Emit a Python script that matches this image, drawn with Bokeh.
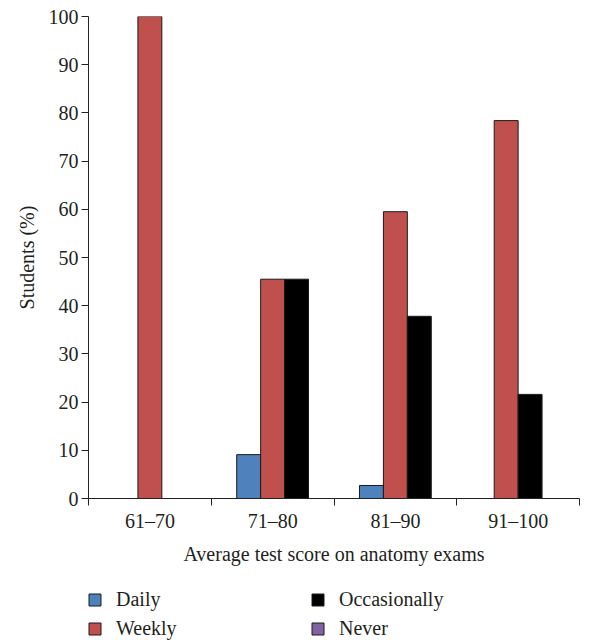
from bokeh.plotting import figure
from bokeh.layouts import column
from bokeh.models import (Range1d, FixedTicker, Legend, LegendItem, ColumnDataSource)
from bokeh.embed import file_html
from bokeh.resources import INLINE

categories = ["61–70", "71–80", "81–90", "91–100"]
series_names = ["Daily", "Weekly", "Occasionally", "Never"]
daily = [0, 9.1, 2.7, 0]
weekly = [100, 45.5, 59.5, 78.4]
occasionally = [0, 45.5, 37.8, 21.6]
never = [0, 0, 0, 0]
colors = ["#4F81BD", "#C0504D", "#000000", "#8064A2"]
y_ticks = [0, 10, 20, 30, 40, 50, 60, 70, 80, 90, 100]

FONT = "Liberation Serif"
TXT = "#231f20"
EDGE = "#1a1a1a"
BAR_W = 0.195

values = [daily, weekly, occasionally, never]

# per-series sources: the non-zero bars of each category centred in it
srcs = {name: dict(x=[], top=[]) for name in series_names}
for ci, cat in enumerate(categories):
    present = [si for si in range(len(series_names)) if values[si][ci] > 0]
    n = len(present)
    for k, si in enumerate(present):
        off = (k - (n - 1) / 2) * BAR_W
        srcs[series_names[si]]["x"].append(ci + 0.5 + off)
        srcs[series_names[si]]["top"].append(values[si][ci])

p = figure(width=615, height=570, output_backend="svg", toolbar_location=None,
           x_range=Range1d(0, len(categories)), y_range=Range1d(0, 100),
           min_border_left=88, min_border_right=36, min_border_top=16,
           min_border_bottom=72)
p.outline_line_color = None
p.xgrid.grid_line_color = None
p.ygrid.grid_line_color = None

for name, col in zip(series_names, colors):
    p.vbar(x="x", top="top", bottom=0, width=BAR_W,
           source=ColumnDataSource(srcs[name]),
           fill_color=col, line_color=EDGE, line_width=1)

# x axis: labels at category centres, tick marks at category boundaries
xa = p.xaxis[0]
xa.ticker = FixedTicker(ticks=[i + 0.5 for i in range(len(categories))],
                        minor_ticks=list(range(len(categories) + 1)))
xa.major_label_overrides = {i + 0.5: c for i, c in enumerate(categories)}
xa.major_tick_out = 0
xa.major_tick_in = 0
xa.minor_tick_out = 7
xa.minor_tick_in = 0
xa.minor_tick_line_color = "#222222"
xa.axis_line_color = "#222222"
xa.major_label_text_font = FONT
xa.major_label_text_font_size = "20px"
xa.major_label_text_color = TXT
xa.major_label_standoff = 4
xa.axis_label = "Average test score on anatomy exams"
xa.axis_label_text_font = FONT
xa.axis_label_text_font_size = "20px"
xa.axis_label_text_font_style = "normal"
xa.axis_label_text_color = TXT
xa.axis_label_standoff = 8

ya = p.yaxis[0]
ya.ticker = FixedTicker(ticks=y_ticks, minor_ticks=[])
ya.major_tick_out = 7
ya.major_tick_in = 0
ya.major_tick_line_color = "#222222"
ya.axis_line_color = "#222222"
ya.major_label_text_font = FONT
ya.major_label_text_font_size = "20px"
ya.major_label_text_color = TXT
ya.major_label_standoff = 3
ya.axis_label = "Students (%)"
ya.axis_label_text_font = FONT
ya.axis_label_text_font_size = "20px"
ya.axis_label_text_font_style = "normal"
ya.axis_label_text_color = TXT
ya.axis_label_standoff = 8

# legend strip below the chart
lf = figure(width=615, height=70, output_backend="svg", toolbar_location=None,
            x_range=Range1d(0, 1), y_range=Range1d(0, 1),
            min_border_left=0, min_border_right=0, min_border_top=0,
            min_border_bottom=0)
lf.axis.visible = False
lf.xgrid.grid_line_color = None
lf.ygrid.grid_line_color = None
lf.outline_line_color = None

items = []
for name, col in zip(series_names, colors):
    r = lf.vbar(x=[float("nan")], top=[float("nan")], bottom=0, width=0.1,
                fill_color=col, line_color=EDGE, line_width=1)
    items.append(LegendItem(label=name, renderers=[r]))

legend = Legend(items=items, nrows=2, orientation="vertical",
                location=(-1, 0))
legend.label_text_font = FONT
legend.label_text_font_size = "20px"
legend.label_text_color = TXT
legend.glyph_width = 15
legend.glyph_height = 15
legend.label_standoff = 14
legend.label_width = 188
legend.label_height = 20
legend.spacing = 6
legend.padding = 0
legend.margin = 0
legend.border_line_color = None
legend.background_fill_alpha = 0
lf.add_layout(legend, "center")

layout = column(p, lf, spacing=0)
open("out.html", "w").write(file_html(layout, INLINE))
